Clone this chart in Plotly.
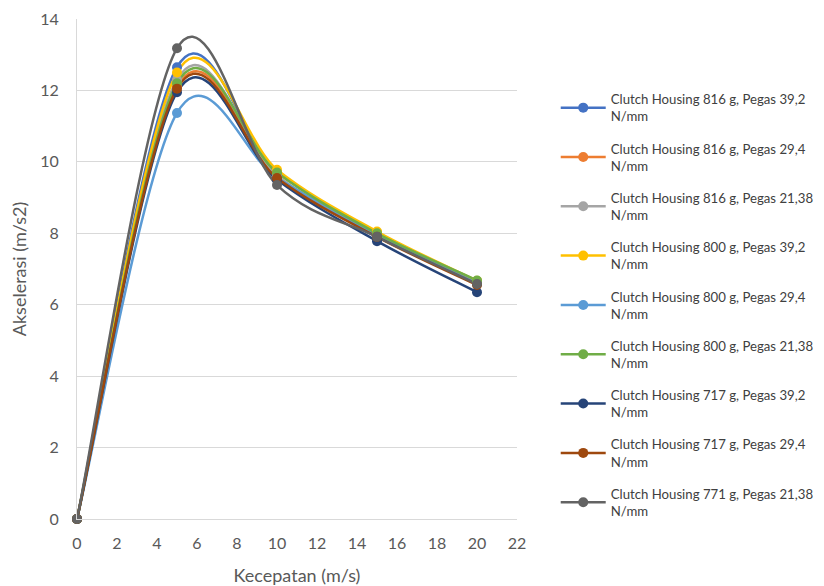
import plotly.graph_objects as go

x_vals = [0, 5, 10, 15, 20]

series_names = [
    "Clutch Housing 816 g, Pegas 39,2<br>N/mm",
    "Clutch Housing 816 g, Pegas 29,4<br>N/mm",
    "Clutch Housing 816 g, Pegas 21,38<br>N/mm",
    "Clutch Housing 800 g, Pegas 39,2<br>N/mm",
    "Clutch Housing 800 g, Pegas 29,4<br>N/mm",
    "Clutch Housing 800 g, Pegas 21,38<br>N/mm",
    "Clutch Housing 717 g, Pegas 39,2<br>N/mm",
    "Clutch Housing 717 g, Pegas 29,4<br>N/mm",
    "Clutch Housing 771 g, Pegas 21,38<br>N/mm",
]

s_816_392 = [0, 12.65, 9.6, 7.95, 6.6]
s_816_294 = [0, 12.1, 9.7, 8.02, 6.65]
s_816_2138 = [0, 12.3, 9.62, 7.95, 6.6]
s_800_392 = [0, 12.5, 9.78, 8.05, 6.67]
s_800_294 = [0, 11.37, 9.55, 7.95, 6.6]
s_800_2138 = [0, 12.2, 9.7, 8.0, 6.68]
s_717_392 = [0, 11.95, 9.5, 7.78, 6.35]
s_717_294 = [0, 12.05, 9.55, 7.9, 6.55]
s_771_2138 = [0, 13.18, 9.35, 7.9, 6.58]

series_values = [s_816_392, s_816_294, s_816_2138, s_800_392, s_800_294,
                 s_800_2138, s_717_392, s_717_294, s_771_2138]

colors = ["#4472C4", "#ED7D31", "#A5A5A5", "#FFC000", "#5B9BD5",
          "#70AD47", "#264478", "#9E480E", "#636363"]


def smooth_path(xs, ys):
    """Excel-style smoothed line as a cubic Bezier SVG path in data coordinates."""
    pts = list(zip(xs, ys))
    n = len(pts)
    d = f"M {xs[0]},{ys[0]}"
    for i in range(n - 1):
        p0 = pts[i - 1] if i > 0 else pts[i]
        p1 = pts[i]
        p2 = pts[i + 1]
        p3 = pts[i + 2] if i + 2 < n else pts[i + 1]
        c1 = (p1[0] + (p2[0] - p0[0]) / 6, p1[1] + (p2[1] - p0[1]) / 6)
        c2 = (p2[0] - (p3[0] - p1[0]) / 6, p2[1] - (p3[1] - p1[1]) / 6)
        d += f" C {c1[0]:.4f},{c1[1]:.4f} {c2[0]:.4f},{c2[1]:.4f} {p2[0]},{p2[1]}"
    return d


fig = go.Figure()
for i, (name, vals, c) in enumerate(zip(series_names, series_values, colors)):
    fig.add_shape(type="path", path=smooth_path(x_vals, vals), xref="x", yref="y",
                  line=dict(color=c, width=2.5), layer="between")
    fig.add_trace(go.Scatter(
        x=x_vals, y=vals, name=name, mode="markers",
        marker=dict(color=c, size=10), showlegend=False,
        legendgroup=f"g{i}", cliponaxis=False,
    ))
    fig.add_trace(go.Scatter(
        x=[None], y=[None], name=name, mode="lines+markers",
        line=dict(color=c, width=2.5), marker=dict(color=c, size=10),
        legendgroup=f"g{i}", hoverinfo="skip",
    ))

font_family = "Lato, 'Open Sans', sans-serif"
fig.update_layout(
    width=824, height=586,
    margin=dict(l=69, r=315, t=11, b=75),
    paper_bgcolor="white", plot_bgcolor="white",
    font=dict(family=font_family, color="#595959", size=14),
    legend=dict(x=1.088, y=0.428, xanchor="left", yanchor="middle",
                font=dict(size=13.2, color="#404040"),
                tracegroupgap=12, itemwidth=45),
    xaxis=dict(range=[0, 22], dtick=2, tick0=0, showgrid=False,
               showline=True, linecolor="#D9D9D9", linewidth=1,
               zeroline=False, ticks="", tickfont=dict(size=16),
               ticklabelstandoff=10, automargin=False,
               title=dict(text="Kecepatan (m/s)", font=dict(size=18), standoff=18)),
    yaxis=dict(range=[0, 14], dtick=2, tick0=0, showgrid=True,
               gridcolor="#D9D9D9", gridwidth=1,
               showline=True, linecolor="#D9D9D9", linewidth=1,
               zeroline=False, ticks="", tickfont=dict(size=16),
               ticklabelstandoff=14, automargin=False,
               title=dict(text="Akselerasi (m/s2)", font=dict(size=18), standoff=10)),
)

fig.write_html("out.html")
